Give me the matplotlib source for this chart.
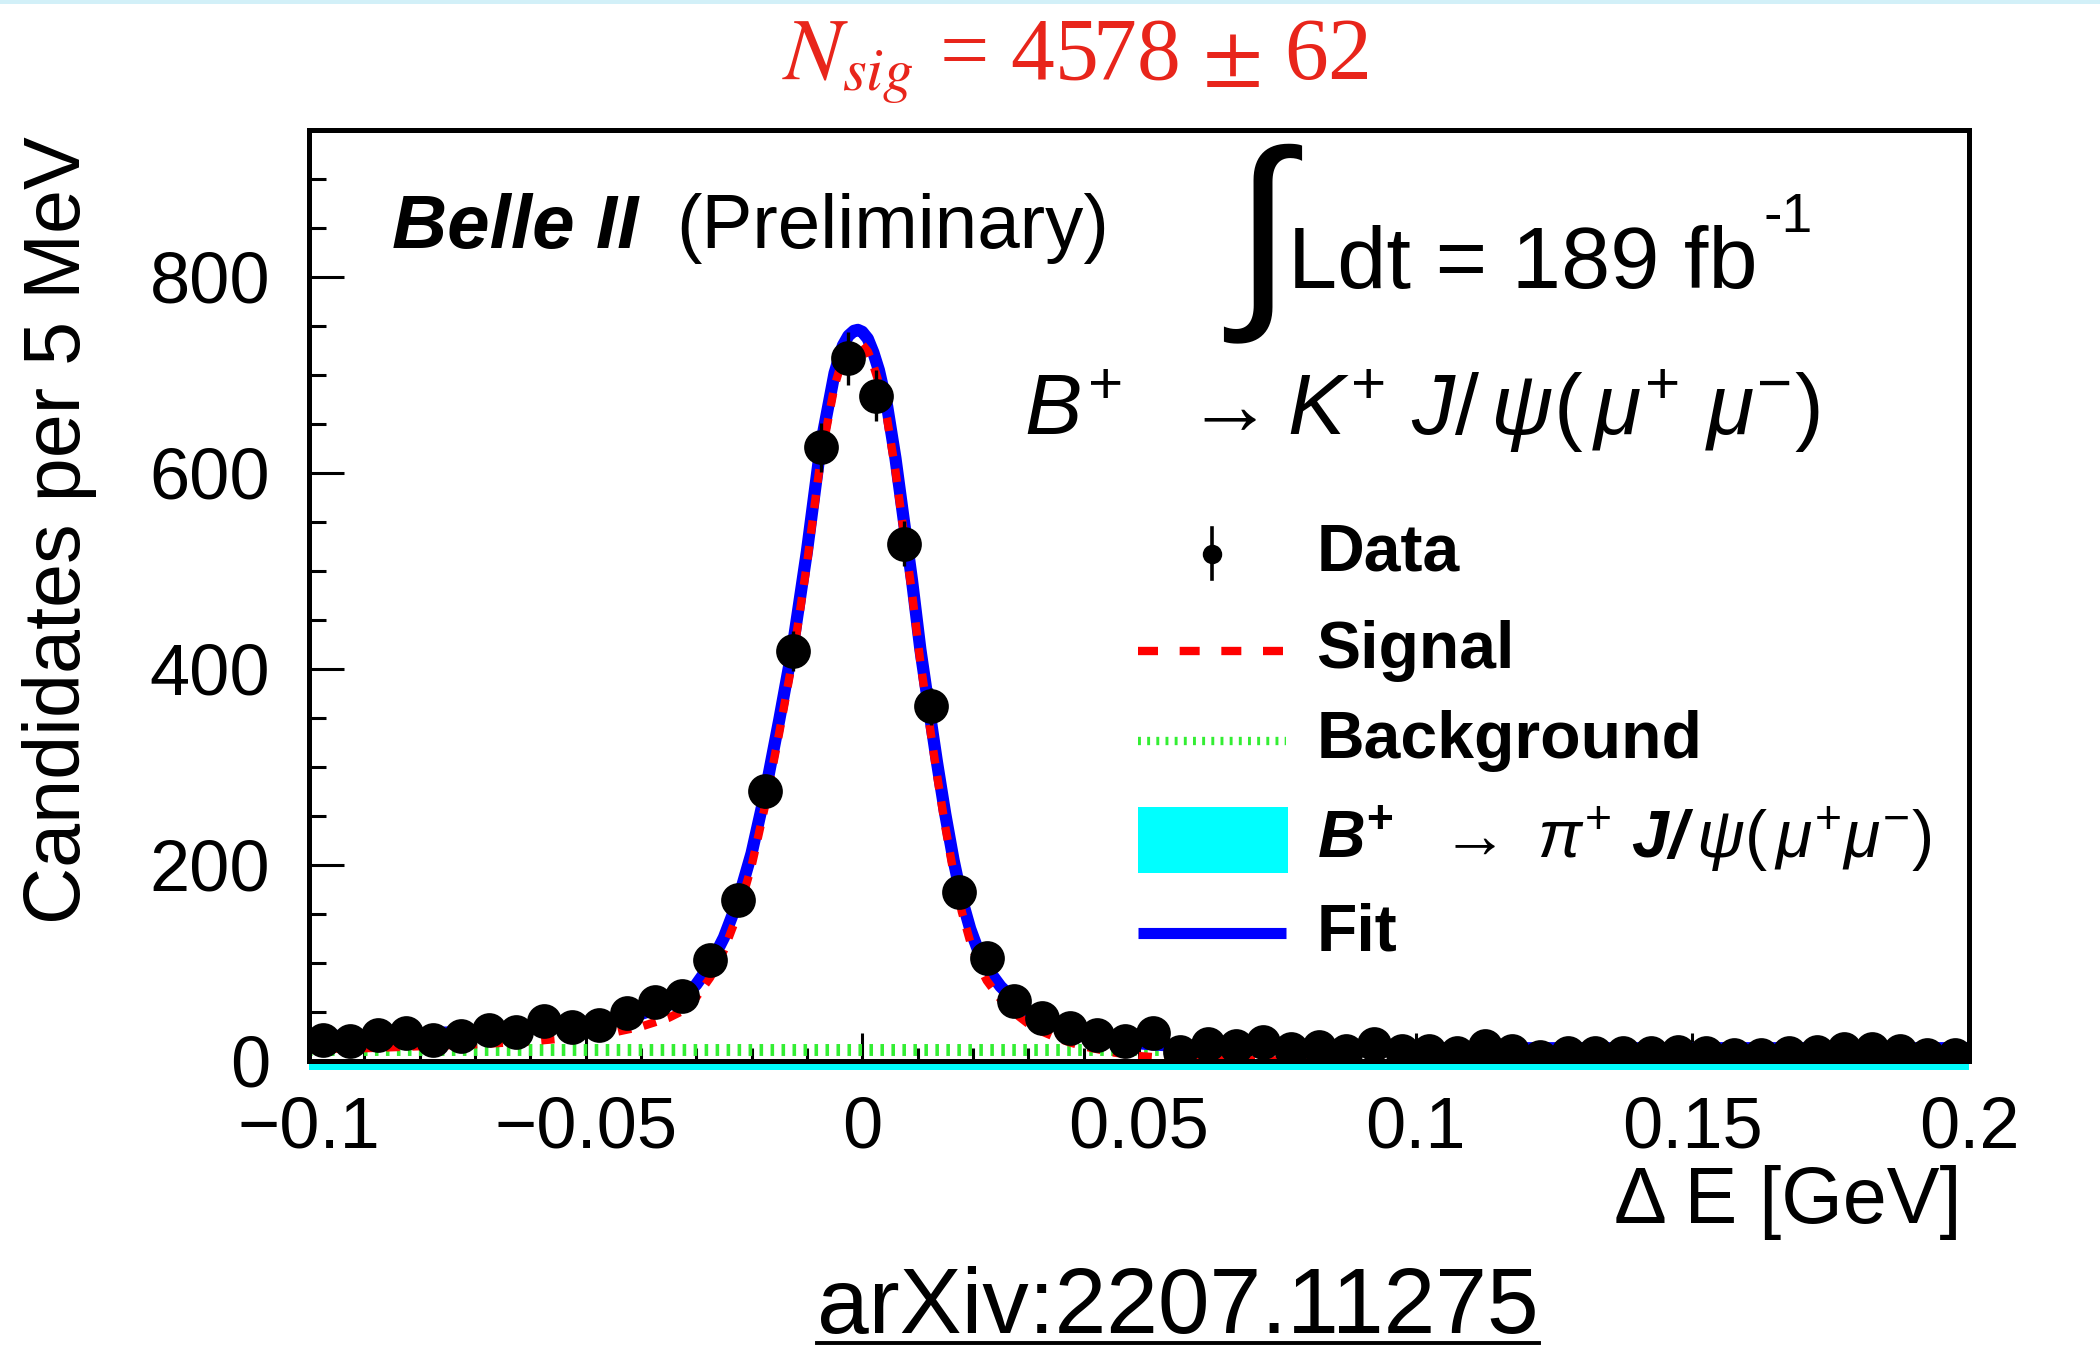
import numpy as np
import matplotlib
matplotlib.use('Agg')
import matplotlib.pyplot as plt
from matplotlib.lines import Line2D
from matplotlib.patches import Rectangle

plt.rcParams['font.family'] = ['Liberation Sans', 'DejaVu Sans']
plt.rcParams['mathtext.fontset'] = 'custom'
plt.rcParams['mathtext.rm'] = 'Liberation Sans'
plt.rcParams['mathtext.it'] = 'Liberation Sans:italic'
plt.rcParams['mathtext.bf'] = 'Liberation Sans:bold:italic'
plt.rcParams['axes.unicode_minus'] = True

# ---------------- data ----------------
bin_low = -0.1
bin_width = 0.005
counts = [21, 20, 26, 29, 21, 25, 32, 30, 41, 35,
          37, 49, 60, 66, 103, 164, 275, 418, 626, 717,
          679, 528, 362, 172, 105, 61, 44, 34, 26, 20,
          29, 9, 17, 15, 19, 12, 14, 10, 17, 10,
          10, 8, 15, 10, 4, 8, 8, 8, 8, 9,
          8, 6, 6, 8, 9, 12, 12, 10, 6, 6]

curve_x = [-0.100, -0.090, -0.080, -0.070, -0.060, -0.050, -0.045, -0.040, -0.035, -0.0325,
           -0.030, -0.0275, -0.025, -0.0225, -0.020, -0.0175, -0.015, -0.0125, -0.010, -0.0075,
           -0.005, -0.0035, -0.0025, -0.0015, -0.0008, 0.0000, 0.0010, 0.0020, 0.0030, 0.0045,
           0.0060, 0.0075, 0.0090, 0.0105, 0.0120, 0.0135, 0.0150, 0.0165, 0.0180, 0.0195,
           0.0210, 0.0225, 0.0250, 0.0275, 0.0300, 0.0325, 0.0350, 0.0375, 0.0400, 0.0450,
           0.0500, 0.0550, 0.0600, 0.0700, 0.0800, 0.1000, 0.1500, 0.2000]
fit_y = [25, 26, 28, 30, 33, 38, 42, 48, 57, 64,
         78, 98, 126, 163, 212, 275, 348, 425, 520, 628,
         702, 730, 740, 745, 746, 744, 737, 723, 705, 668,
         615, 552, 490, 420, 362, 305, 252, 205, 165, 135,
         112, 95, 76, 62, 51, 43, 37, 32, 28, 22,
         18, 16, 14, 13, 13, 13, 13, 13]
signal_y = [12, 13, 15, 17, 20, 25, 29, 35, 44, 51,
            65, 85, 113, 150, 199, 262, 335, 412, 507, 615,
            689, 717, 727, 732, 733, 731, 724, 710, 692, 655,
            602, 539, 477, 407, 349, 292, 239, 192, 152, 122,
            99, 82, 63, 49, 38, 30, 24, 19, 15, 9,
            5, 3, 1.5, 0.8, 0.4, 0.2, 0, 0]
bkg_x = [-0.1, 0.2]
bkg_y = [11, 11]
pijpsi_x = [-0.1, 0.2]
pijpsi_y = [2, 2]

xticks = [-0.1, -0.05, 0, 0.05, 0.1, 0.15, 0.2]
xticklabels = ['\u22120.1', '\u22120.05', '0', '0.05', '0.1', '0.15', '0.2']
yticks = [0, 200, 400, 600, 800]
yticklabels = ['0', '200', '400', '600', '800']

legend_labels = ['Data', 'Signal', 'Background',
                 r'$\mathbf{B}^{\mathbf{+}}\ \ \rightarrow\ \pi^{+}\ \mathbf{J/}\,\psi(\,\mu^{+}\mu^{-})$',
                 'Fit']

# ---------------- figure ----------------
fig = plt.figure(figsize=(10.5, 6.775), dpi=200)
ax = fig.add_axes([0.1471, 0.2170, 0.7905, 0.6871])

centers = bin_low + bin_width * (np.arange(len(counts)) + 0.5)
errs = np.sqrt(np.array(counts, dtype=float))

BLUE = '#0000ff'
RED = '#ff0000'
GREEN = '#33ee33'
CYAN = '#00ffff'

ax.fill_between(pijpsi_x, -9, pijpsi_y, color=CYAN, lw=0, clip_on=False, zorder=1)
ax.plot(bkg_x, bkg_y, color=GREEN, lw=4.3, dashes=(0.3, 0.62), zorder=2)
ax.plot(curve_x, fit_y, color=BLUE, lw=4.4, zorder=3, solid_joinstyle='round')
ax.plot(curve_x, signal_y, color=RED, lw=3.0, dashes=(1.6, 1.5), zorder=4)
ax.errorbar(centers, counts, yerr=errs, fmt='o', color='black', ms=11.5,
            elinewidth=1.2, capsize=0, zorder=5)

ax.set_xlim(-0.1, 0.2)
ax.set_ylim(0, 950)

ax.set_xticks(xticks)
ax.set_xticklabels(xticklabels)
ax.set_yticks(yticks)
ax.set_yticklabels(yticklabels)
ax.set_xticks(np.arange(-0.1, 0.2001, 0.01), minor=True)
ax.set_yticks(np.arange(0, 951, 50), minor=True)
ax.tick_params(axis='both', which='both', direction='in', top=False, right=False,
               labelsize=26, width=1.1, color='black')
ax.tick_params(axis='x', which='major', length=10, pad=12.5)
ax.tick_params(axis='x', which='minor', length=4.7)
ax.tick_params(axis='y', which='major', length=12.6, pad=14)
ax.tick_params(axis='y', which='minor', length=6)
for sp in ax.spines.values():
    sp.set_linewidth(1.8)
    sp.set_zorder(6)

# legend (manual)
tx = 0.607
hx0, hx1 = 0.4996, 0.5884
ys = [0.545, 0.4405, 0.344, 0.2378, 0.137]
ax.plot([0.544, 0.544], [ys[0] - 0.027, ys[0] + 0.027], color='black', lw=1.3,
        transform=ax.transAxes)
ax.plot([0.544], [ys[0]], 'o', color='black', ms=6, transform=ax.transAxes)
ax.plot([hx0, hx1], [ys[1], ys[1]], color=RED, lw=3.0, dashes=(2.4, 2.6),
        transform=ax.transAxes)
ax.plot([hx0, hx1], [ys[2], ys[2]], color=GREEN, lw=3.0, dashes=(0.35, 0.75),
        transform=ax.transAxes)
ax.add_patch(Rectangle((hx0, 0.2018), 0.5900 - hx0, 0.2723 - 0.2018, color=CYAN,
                       transform=ax.transAxes, lw=0))
ax.plot([hx0, hx1], [ys[4], ys[4]], color=BLUE, lw=4.0, transform=ax.transAxes,
        solid_capstyle='butt')
for y, lab in zip(ys, legend_labels):
    ax.text(tx, y, lab, transform=ax.transAxes, fontsize=23.8, weight='bold',
            ha='left', va='center')

# annotations
ax.text(0.050, 0.8734, 'Belle II', transform=ax.transAxes, fontsize=27.5,
        weight='bold', style='italic', va='baseline')
ax.text(0.2211, 0.8734, '(Preliminary)', transform=ax.transAxes, fontsize=27.5,
        va='baseline')
ax.text(0.574, 0.879, '\u222b', transform=ax.transAxes, fontsize=76,
        ha='center', va='center')
lumi = ax.text(0.590, 0.830, 'Ldt = 189 fb', transform=ax.transAxes,
               fontsize=31.8, va='baseline')
ax.text(0.431, 0.672, r'$B^{+}\ \ \rightarrow K^{+}\ J/\,\psi(\,\mu^{+}\ \mu^{-})$',
        transform=ax.transAxes, fontsize=31, va='baseline')

fig.text(0.512, 0.941, r'$N_{sig}$ = 4578 $\pm$ 62', color='#e8251b', fontsize=31.5,
         family='Liberation Serif', math_fontfamily='stix', ha='center', va='baseline')

fig.text(60 / 2100, 1 - 136 / 1355, 'Candidates per 5 MeV', rotation=90,
         fontsize=28.5, ha='center', va='top')
fig.text(1962 / 2100, 1 - 1203 / 1355, '\u0394 E [GeV]', fontsize=28.5,
         ha='right', va='center')

arx = fig.text(0.561, 0.016, 'arXiv:2207.11275', fontsize=33.5, ha='center', va='baseline')
fig.canvas.draw()
W, H = fig.canvas.get_width_height()
bb = arx.get_window_extent()
fig.add_artist(Line2D([bb.x0 / W, bb.x1 / W], [1 - 1343 / 1355] * 2,
                      transform=fig.transFigure, color='black', lw=1.4))
lb = lumi.get_window_extent()
fig.text((lb.x1 + 6) / W, 1 - 232 / 1355, '-1', fontsize=20, ha='left', va='baseline')

fig.add_artist(Rectangle((0, 1 - 4 / 1355), 1, 4 / 1355, transform=fig.transFigure,
                         color='#d2f0f8', lw=0))

fig.savefig('out.png', dpi=200)
